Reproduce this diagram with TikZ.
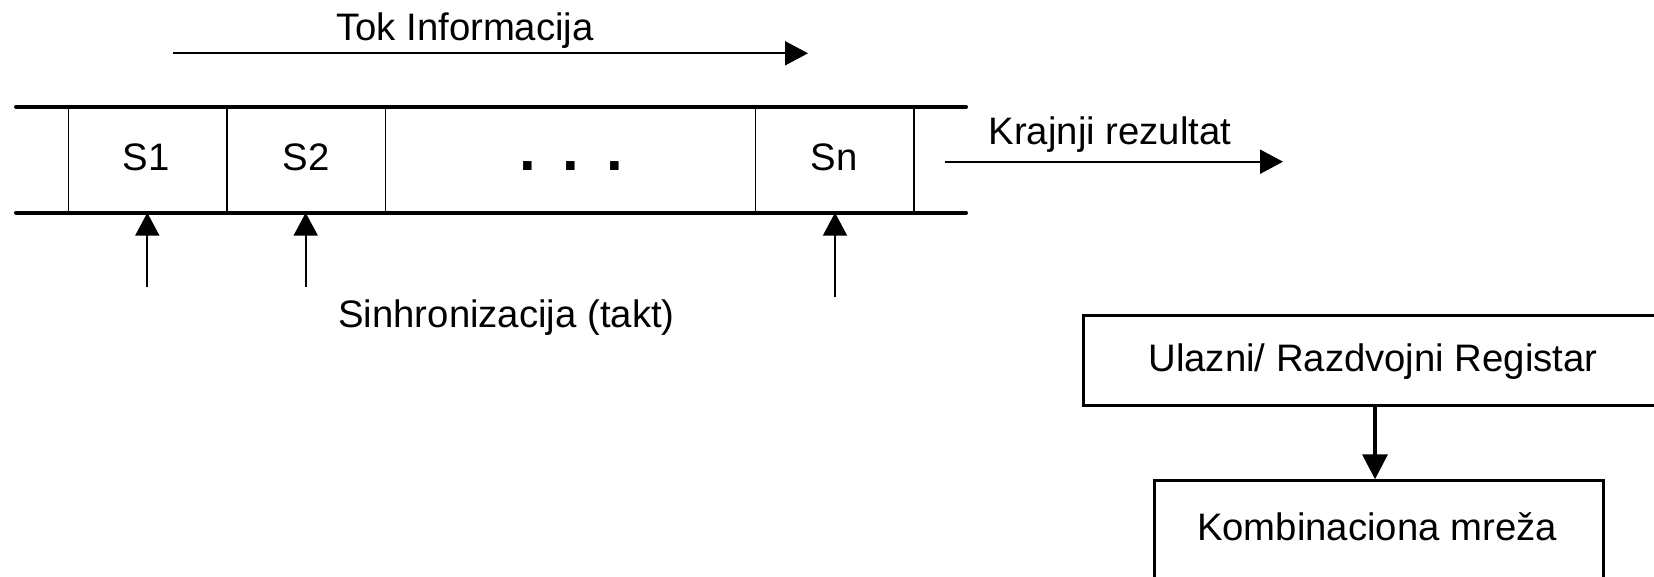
\documentclass[tikz,border=0pt]{standalone}
\usepackage{fontspec}
\setmainfont{Liberation Sans}
\usetikzlibrary{arrows.meta}
\begin{document}
\begin{tikzpicture}[x=1pt,y=-1pt,
  lbl/.style={font=\fontsize{38.3}{46}\selectfont, inner sep=0pt, anchor=base},
  rail/.style={line width=4pt, line cap=round},
  sepline/.style={line width=1.3pt},
  flow/.style={line width=2pt, -{Triangle[length=23pt,width=24pt]}},
  bigflow/.style={line width=3.5pt, -{Triangle[length=25pt,width=25pt]}},
  blk/.style={draw, line width=3pt, inner sep=0pt, anchor=north west}]
\clip (0,0) rectangle (1654,577);
\fill[white] (0,0) rectangle (1654,577);

% stage separators of the pipeline
\foreach \x in {68.3,227,385.7,755.7,914}
  \draw[sepline] (\x,106.7) -- (\x,212.7);

% pipeline rails
\coordinate (railTL) at (16,106.7);
\coordinate (railTR) at (966,106.7);
\coordinate (railBL) at (16,212.7);
\coordinate (railBR) at (966,212.7);
\draw[rail] (railTL) -- (railTR);
\draw[rail] (railBL) -- (railBR);

% stage labels
\node[lbl] (s1) at (146,171) {S1};
\node[lbl] (s2) at (306,171) {S2};
\node[lbl, font=\fontsize{60}{60}\selectfont\bfseries] (dots) at (571,171)
  {.\hspace{26.8pt}.\hspace{26.8pt}.};
\node[lbl] (sn) at (834,171) {Sn};

% information flow
\node[lbl] (tok) at (465,40.7) {Tok Informacija};
\coordinate (tokA) at (173,53.3);
\coordinate (tokB) at (808,53.3);
\draw[flow] (tokA) -- (tokB);

% final result
\node[lbl] (kraj) at (1110,145) {Krajnji rezultat};
\coordinate (krajA) at (945,161.7);
\coordinate (krajB) at (1283,161.7);
\draw[flow] (krajA) -- (krajB);

% clock inputs
\coordinate (c1) at (147.3,286.7);
\coordinate (c2) at (305.7,286.7);
\coordinate (cn) at (835,297.3);
\draw[flow] (c1) -- (c1 |- railBL);
\draw[flow] (c2) -- (c2 |- railBL);
\draw[flow] (cn) -- (cn |- railBL);
\node[lbl] (sync) at (506.5,327) {Sinhronizacija (takt)};

% register and combinational network
\node[blk, minimum width=618pt, minimum height=90pt] (reg) at (1082,314) {};
\node[lbl] (regtxt) at (1373,371.7) {Ulazni/ Razdvojni Registar};
\node[blk, minimum width=448.7pt, minimum height=140pt] (komb) at (1153,479.3) {};
\node[lbl] (kombtxt) at (1377,540) {Kombinaciona mreža};
\coordinate (regout) at (1375,404);
\draw[bigflow] (regout) -- (regout |- komb.north);
\end{tikzpicture}
\end{document}
